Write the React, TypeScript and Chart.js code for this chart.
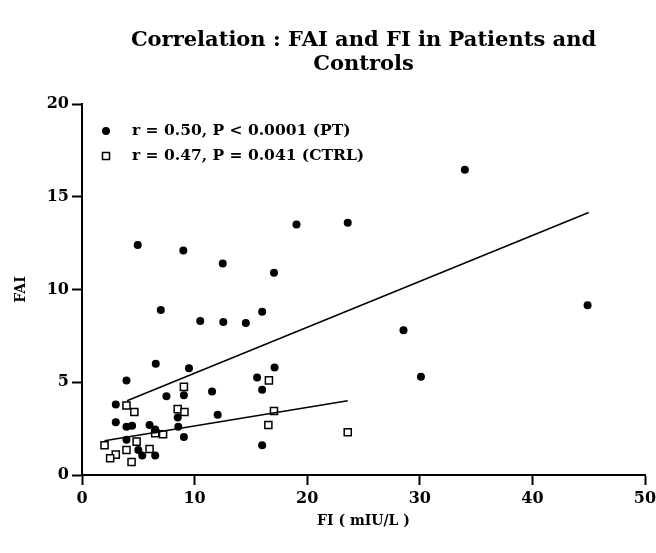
import React, { useEffect, useRef } from "react";
import { Chart, registerables } from "chart.js";

Chart.register(...registerables);

// ---- Data ----
const titleLines = ["Correlation : FAI and FI in Patients and", "Controls"];
const xTitle = "FI ( mIU/L )";
const yTitle = "FAI";
const legendPT = "r = 0.50, P < 0.0001 (PT)";
const legendCTRL = "r = 0.47, P = 0.041 (CTRL)";

const ptX = [34.0, 19.05, 23.6, 17.05, 16.0, 44.9, 28.55, 30.1, 17.1, 16.0, 16.0, 7.0, 10.5, 12.55, 14.55, 6.55, 9.5, 3.95, 15.55, 9.05, 7.5, 11.55, 3.0, 8.5, 12.05, 3.0, 3.95, 4.45, 6.0, 6.5, 8.55, 9.05, 3.95, 5.0, 5.35, 6.5, 4.95, 9.0, 12.5];
const ptY = [16.45, 13.5, 13.6, 10.9, 8.8, 9.15, 7.8, 5.3, 5.8, 4.6, 1.6, 8.9, 8.3, 8.25, 8.2, 6.0, 5.75, 5.1, 5.25, 4.3, 4.25, 4.5, 3.8, 3.1, 3.25, 2.85, 2.6, 2.65, 2.7, 2.45, 2.6, 2.05, 1.9, 1.35, 1.05, 1.05, 12.4, 12.1, 11.4];

const ctrlX = [9.05, 16.6, 17.05, 16.55, 23.6, 3.95, 4.65, 8.5, 9.1, 7.2, 6.5, 2.0, 4.85, 3.95, 6.0, 3.0, 2.5, 4.4];
const ctrlY = [4.75, 5.1, 3.45, 2.7, 2.3, 3.75, 3.4, 3.55, 3.4, 2.2, 2.25, 1.6, 1.8, 1.35, 1.4, 1.1, 0.9, 0.7];

const ptFitX = [4.0, 45.0];
const ptFitY = [4.0, 14.15];
const ctrlFitX = [2.0, 23.6];
const ctrlFitY = [1.85, 4.0];

const xTicks = [0, 10, 20, 30, 40, 50];
const yTicks = [0, 5, 10, 15, 20];

const FONT = "'DejaVu Serif', 'Liberation Serif', serif";

const toPoints = (xs: number[], ys: number[]) => xs.map((x, i) => ({ x, y: ys[i] }));

const insideLegend = {
  id: "insideLegend",
  afterDraw(chart: any) {
    const { ctx, chartArea } = chart;
    const mx = chartArea.left + 24;
    const tx = chartArea.left + 50;
    const y1 = chartArea.top + 27;
    const y2 = chartArea.top + 52;
    ctx.save();
    ctx.fillStyle = "#000";
    ctx.beginPath();
    ctx.arc(mx, y1, 4, 0, Math.PI * 2);
    ctx.fill();
    ctx.fillStyle = "#fff";
    ctx.strokeStyle = "#000";
    ctx.lineWidth = 1.5;
    ctx.fillRect(mx - 3.5, y2 - 3.5, 7, 7);
    ctx.strokeRect(mx - 3.5, y2 - 3.5, 7, 7);
    ctx.fillStyle = "#000";
    ctx.font = `bold 15.5px ${FONT}`;
    ctx.textBaseline = "middle";
    ctx.textAlign = "left";
    ctx.fillText(legendPT, tx, y1);
    ctx.fillText(legendCTRL, tx, y2);
    ctx.restore();
  },
};

export default function App() {
  const ref = useRef<HTMLCanvasElement | null>(null);

  useEffect(() => {
    if (!ref.current) return;
    const chart = new Chart(ref.current, {
      type: "scatter",
      data: {
        datasets: [
          {
            label: "PT fit",
            type: "line",
            data: toPoints(ptFitX, ptFitY),
            borderColor: "#000",
            borderWidth: 1.5,
            pointRadius: 0,
            fill: false,
          } as any,
          {
            label: "CTRL fit",
            type: "line",
            data: toPoints(ctrlFitX, ctrlFitY),
            borderColor: "#000",
            borderWidth: 1.5,
            pointRadius: 0,
            fill: false,
          } as any,
          {
            label: "PT",
            data: toPoints(ptX, ptY),
            pointStyle: "circle",
            pointRadius: 4,
            backgroundColor: "#000",
            borderColor: "#000",
            borderWidth: 0,
          },
          {
            label: "CTRL",
            data: toPoints(ctrlX, ctrlY),
            pointStyle: "rect",
            pointRadius: 5,
            backgroundColor: "#fff",
            borderColor: "#000",
            borderWidth: 1.5,
          },
        ],
      },
      options: {
        animation: false,
        responsive: false,
        maintainAspectRatio: false,
        events: [],
        layout: { padding: { left: 0, right: 0, top: 0, bottom: 0 } },
        plugins: {
          legend: { display: false },
          tooltip: { enabled: false },
          title: {
            display: true,
            text: titleLines,
            fullSize: false,
            color: "#000",
            font: { family: FONT, size: 21, weight: "bold", lineHeight: 1.15 },
            padding: { top: 28, bottom: 27.7 },
          },
        },
        scales: {
          x: {
            type: "linear",
            min: 0,
            max: 50,
            afterBuildTicks: (s: any) => {
              s.ticks = xTicks.map((v) => ({ value: v }));
            },
            afterFit: (s: any) => {
              s.height = 78;
              s.paddingRight = 11;
            },
            border: { color: "#000", width: 2 },
            grid: { drawOnChartArea: false, tickLength: 10, tickColor: "#000", tickWidth: 2 },
            ticks: { color: "#000", padding: 4, font: { family: FONT, size: 16, weight: "bold" } },
            title: {
              display: true,
              text: xTitle,
              color: "#000",
              font: { family: FONT, size: 14, weight: "bold", lineHeight: 1.2 },
              padding: { top: 0, bottom: 23 },
            },
          },
          y: {
            type: "linear",
            min: 0,
            max: 20,
            afterBuildTicks: (s: any) => {
              s.ticks = yTicks.map((v) => ({ value: v }));
            },
            afterFit: (s: any) => {
              s.width = 82;
            },
            border: { color: "#000", width: 2 },
            grid: { drawOnChartArea: false, tickLength: 10, tickColor: "#000", tickWidth: 2 },
            ticks: { color: "#000", padding: 3, font: { family: FONT, size: 16, weight: "bold" } },
            title: {
              display: true,
              text: yTitle,
              color: "#000",
              font: { family: FONT, size: 14, weight: "bold", lineHeight: 1.2 },
              padding: { top: 13, bottom: 0 },
            },
          },
        },
      },
      plugins: [insideLegend],
    });
    return () => chart.destroy();
  }, []);

  return (
    <div style={{ position: "fixed", left: 0, top: 0, width: 656, height: 553, background: "#fff" }}>
      <canvas ref={ref} width={656} height={553} style={{ display: "block", width: 656, height: 553 }} />
    </div>
  );
}
